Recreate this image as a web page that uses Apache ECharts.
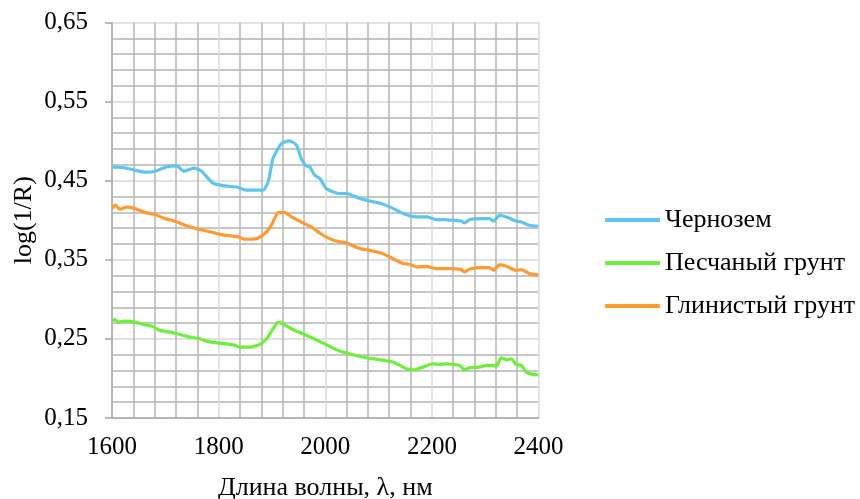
<!DOCTYPE html>
<html><head><meta charset="utf-8">
<script src="https://cdn.jsdelivr.net/npm/echarts@6/dist/echarts.min.js"></script>
<style>html,body{margin:0;padding:0;background:#fff}#c{width:860px;height:499px}</style>
</head><body><div id="c"></div>
<script>
const seriesNames = ['Чернозем', 'Песчаный грунт', 'Глинистый грунт'];

const chernozemX = [1600,1612,1624,1643,1662,1681,1702,1721,1735,1754,1768,1790,1812,1837,1852,1883,1893,1902,1918,1933,1946,1955,1964,1971,1980,1990,2002,2027,2040,2065,2083,2105,2121,2146,2171,2190,2208,2224,2239,2255,2261,2271,2296,2308,2316,2327,2340,2358,2368,2383,2400];
const chernozemY = [0.4675,0.467,0.4662,0.4633,0.4608,0.462,0.4675,0.4688,0.462,0.4658,0.462,0.4465,0.4435,0.4414,0.438,0.438,0.4485,0.478,0.497,0.5004,0.495,0.478,0.4688,0.4675,0.457,0.4528,0.440,0.4338,0.4338,0.4275,0.4244,0.4211,0.4169,0.4085,0.4042,0.4042,0.4009,0.4009,0.400,0.399,0.3966,0.4009,0.4021,0.4021,0.3988,0.4063,0.4042,0.399,0.3978,0.3937,0.3924];

const sandX = [1600,1606,1612,1624,1643,1659,1674,1690,1715,1740,1765,1777,1802,1827,1840,1859,1877,1890,1902,1912,1918,1940,1965,1996,2015,2027,2052,2077,2102,2127,2152,2168,2183,2202,2215,2227,2240,2252,2261,2271,2289,2302,2314,2321,2330,2340,2349,2358,2368,2377,2390,2400];
const sandY = [0.2734,0.2743,0.2713,0.2725,0.2713,0.2684,0.2662,0.2608,0.2578,0.2532,0.2502,0.2472,0.2447,0.2426,0.2396,0.2396,0.243,0.2502,0.2629,0.2713,0.27,0.2616,0.2544,0.2447,0.2384,0.2346,0.23,0.2262,0.2237,0.2207,0.2123,0.211,0.2143,0.2186,0.2177,0.2186,0.2177,0.2165,0.211,0.2135,0.2143,0.2165,0.2165,0.2152,0.2262,0.2237,0.2249,0.2177,0.2165,0.208,0.2051,0.2047];

const clayX = [1600,1606,1615,1627,1643,1662,1681,1696,1718,1737,1762,1780,1805,1837,1849,1871,1887,1899,1912,1924,1937,1955,1974,1990,2008,2027,2040,2065,2083,2105,2121,2146,2158,2171,2190,2208,2224,2239,2255,2261,2271,2296,2308,2316,2327,2340,2358,2368,2383,2400];
const clayY = [0.4148,0.419,0.4139,0.4165,0.4148,0.4097,0.4072,0.4029,0.3987,0.3937,0.3886,0.3861,0.3819,0.3789,0.376,0.3768,0.3832,0.3937,0.4097,0.4097,0.4042,0.3978,0.3915,0.3836,0.3768,0.3726,0.3713,0.3641,0.362,0.3586,0.3536,0.3452,0.3443,0.3409,0.3418,0.3389,0.3389,0.3389,0.3376,0.3346,0.3384,0.3401,0.3401,0.3367,0.3439,0.3418,0.3367,0.3376,0.3325,0.3304];

const xTicks = [1600, 1800, 2000, 2200, 2400];
const yTicks = ['0,15', '0,25', '0,35', '0,45', '0,55', '0,65'];

const pair = (xs, ys) => xs.map((x, i) => [x, ys[i]]);
const font = "'Liberation Serif', 'Times New Roman', serif";
const colors = ['#5bc6f2', '#6cf03a', '#ff9a33'];

const chart = echarts.init(document.getElementById('c'), null, {renderer: 'canvas'});
chart.setOption({
  animation: false,
  backgroundColor: '#fff',
  textStyle: {fontFamily: font},
  grid: {left: 112, right: 321.5, top: 22.5, bottom: 81, containLabel: false, outerBoundsMode: 'none'},
  xAxis: {
    type: 'value', min: xTicks[0], max: xTicks[xTicks.length - 1], interval: 200,
    name: 'Длина волны, λ, нм', nameLocation: 'middle', nameGap: 57,
    nameTextStyle: {fontFamily: font, fontSize: 26, color: '#000'},
    axisLine: {show: true, lineStyle: {color: '#a6a6a6', width: 1.5}},
    axisTick: {show: false},
    minorTick: {show: false, splitNumber: 5},
    axisLabel: {fontFamily: font, fontSize: 25, color: '#000', margin: 17,
      formatter: v => String(v)},
    splitLine: {show: true, lineStyle: {color: '#dadada', width: 1.5}},
    minorSplitLine: {show: true, lineStyle: {color: '#b5b5b5', width: 1.5}}
  },
  yAxis: {
    type: 'value', min: 0.15, max: 0.65, interval: 0.1,
    name: 'log(1/R)', nameLocation: 'middle', nameGap: 75,
    nameTextStyle: {fontFamily: font, fontSize: 26, color: '#000'},
    axisLine: {show: true, lineStyle: {color: '#a6a6a6', width: 1.5}},
    axisTick: {show: true, length: 7, lineStyle: {color: '#a6a6a6', width: 1.5}},
    minorTick: {show: false, splitNumber: 5},
    axisLabel: {fontFamily: font, fontSize: 25, color: '#000', margin: 24,
      formatter: v => yTicks[Math.round((v - 0.15) / 0.1)]},
    splitLine: {show: true, lineStyle: {color: '#dadada', width: 1.5}},
    minorSplitLine: {show: true, lineStyle: {color: '#b5b5b5', width: 1.5}}
  },
  legend: {
    orient: 'vertical', left: 600, top: 202, itemWidth: 55, itemHeight: 4, itemGap: 17,
    icon: 'roundRect',
    data: seriesNames,
    textStyle: {fontFamily: font, fontSize: 26, color: '#000'}
  },
  color: colors,
  series: [
    {name: seriesNames[0], type: 'line', data: pair(chernozemX, chernozemY), showSymbol: false, symbol: 'none', smooth: 0.2, lineStyle: {width: 3.2, color: colors[0]}, itemStyle: {color: colors[0]}},
    {name: seriesNames[1], type: 'line', data: pair(sandX, sandY), showSymbol: false, symbol: 'none', smooth: 0.2, lineStyle: {width: 3.2, color: colors[1]}, itemStyle: {color: colors[1]}},
    {name: seriesNames[2], type: 'line', data: pair(clayX, clayY), showSymbol: false, symbol: 'none', smooth: 0.2, lineStyle: {width: 3.2, color: colors[2]}, itemStyle: {color: colors[2]}}
  ]
});
</script></body></html>
